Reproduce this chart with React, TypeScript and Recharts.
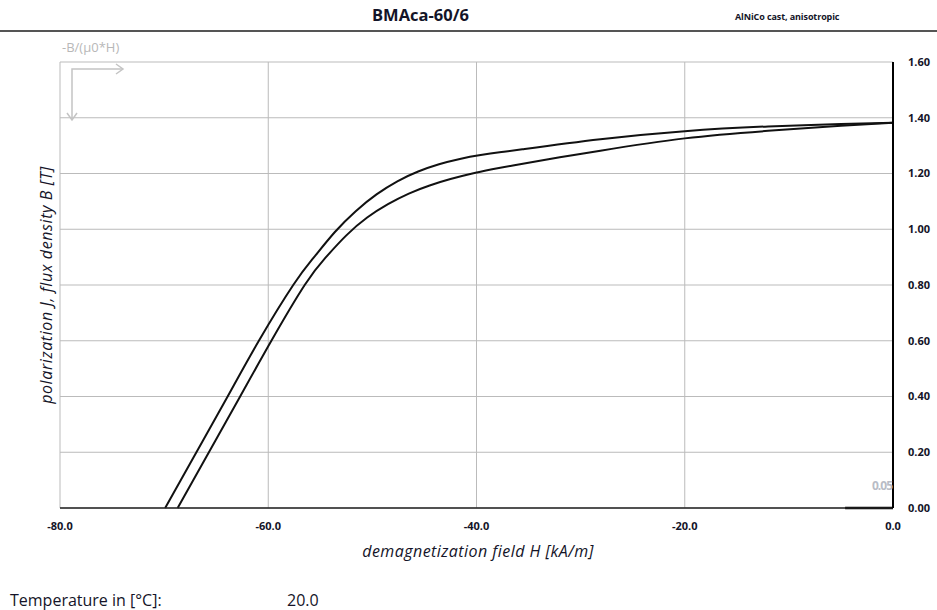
import React from "react";
import {
    CartesianGrid,
    Line,
    LineChart,
    XAxis,
    YAxis,
} from "recharts";

// polarization J curve (outer)
const jField = [-69.9, -66.9, -63.9, -60.9, -57.6, -55.6, -53.6, -51.6, -49.6, -47.6, -45.6, -43.6, -41.6, -39.6, -37.6, -35.6, -28.1, -20.0, -12.0, -5.0, 0];
const jValues = [0, 0.2, 0.4, 0.6, 0.8, 0.9, 0.99, 1.065, 1.125, 1.172, 1.207, 1.233, 1.252, 1.266, 1.277, 1.287, 1.323, 1.352, 1.369, 1.378, 1.382];

// flux density B curve (inner)
const bField = [-68.7, -65.7, -62.7, -59.7, -56.5, -54.5, -52.5, -50.5, -48.5, -46.5, -44.5, -42.5, -40.5, -38.5, -36.5, -32.0, -28.1, -20.0, -12.0, -5.0, 0];
const bValues = [0, 0.2, 0.4, 0.6, 0.8, 0.898, 0.978, 1.042, 1.09, 1.128, 1.157, 1.18, 1.199, 1.215, 1.229, 1.258, 1.282, 1.326, 1.353, 1.371, 1.382];

// working line -B/(µ0*H) = 0.05
const loadField = [-4.6, 0];
const loadValues = [0, 0];

const xTicks = [-80, -60, -40, -20, 0];
const yTicks = [0, 0.2, 0.4, 0.6, 0.8, 1.0, 1.2, 1.4, 1.6];

const toRows = (hs: number[], vs: number[]) => hs.map((h, i) => ({ h, v: vs[i] }));

const jData = toRows(jField, jValues);
const bData = toRows(bField, bValues);
const loadData = toRows(loadField, loadValues);

const font = "'Open Sans', 'Noto Sans', sans-serif";
const ink = "#141428";

export default function App() {
    return (
        <div
            style={{
                position: "absolute",
                left: 0,
                top: 0,
                width: 937,
                height: 610,
                background: "#fff",
                fontFamily: font,
                color: ink,
            }}
        >
            <div
                style={{
                    position: "absolute",
                    left: 372,
                    top: 3,
                    fontSize: 16.5,
                    fontWeight: 700,
                }}
            >
                BMAca-60/6
            </div>
            <div
                style={{
                    position: "absolute",
                    left: 735,
                    top: 10,
                    fontSize: 9,
                    fontWeight: 700,
                    letterSpacing: -0.1,
                }}
            >
                AlNiCo cast, anisotropic
            </div>
            <div
                style={{
                    position: "absolute",
                    left: 0,
                    top: 30,
                    width: 937,
                    height: 2,
                    background: "#555",
                }}
            />
            <LineChart
                width={937}
                height={610}
                margin={{ top: 62, right: 0, left: 60, bottom: 52 }}
                style={{ position: "absolute", left: 0, top: 0 }}
            >
                <CartesianGrid stroke="#bbbbbb" strokeWidth={1} />
                <XAxis
                    dataKey="h"
                    type="number"
                    domain={[-80, 0]}
                    ticks={xTicks}
                    allowDataOverflow
                    height={50}
                    stroke="#222"
                    strokeWidth={1.5}
                    tickLine={false}
                    tickSize={0}
                    tickMargin={14}
                    tick={{ fontSize: 11, fontWeight: 700, fill: ink, fontFamily: font }}
                    tickFormatter={(v: number) => v.toFixed(1)}
                />
                <YAxis
                    orientation="right"
                    type="number"
                    domain={[0, 1.6]}
                    ticks={yTicks}
                    width={44}
                    stroke="#000"
                    strokeWidth={2}
                    tickLine={false}
                    tickSize={0}
                    tickMargin={15}
                    tick={{ fontSize: 11, fontWeight: 700, fill: ink, fontFamily: font }}
                    tickFormatter={(v: number) => v.toFixed(2)}
                />
                <Line
                    data={jData}
                    dataKey="v"
                    type="natural"
                    stroke="#111"
                    strokeWidth={2}
                    dot={false}
                    isAnimationActive={false}
                />
                <Line
                    data={bData}
                    dataKey="v"
                    type="natural"
                    stroke="#111"
                    strokeWidth={2}
                    dot={false}
                    isAnimationActive={false}
                />
                <Line
                    data={loadData}
                    dataKey="v"
                    type="linear"
                    stroke="#000"
                    strokeWidth={2.5}
                    dot={false}
                    isAnimationActive={false}
                />
            </LineChart>
            <svg
                width={937}
                height={610}
                style={{ position: "absolute", left: 0, top: 0, pointerEvents: "none" }}
            >
                <text x={62} y={52} fontSize={13} fill="#b8b8b8" fontFamily={font}>
                    -B/(µ0*H)
                </text>
                <g stroke="#c4c4c4" strokeWidth={1.5} fill="none">
                    <polyline points="72,120 72,69 123,69" />
                    <polyline points="116,64 123,69 116,74" />
                    <polyline points="67,113 72,120 77,113" />
                </g>
                <text
                    x={892}
                    y={490}
                    fontSize={12}
                    fontWeight={700}
                    letterSpacing={-1}
                    textAnchor="end"
                    fill="#b8bcc6"
                    fontFamily={font}
                >
                    0.05
                </text>
                <text
                    x={478}
                    y={557}
                    fontSize={16}
                    fontStyle="italic"
                    letterSpacing={0.45}
                    textAnchor="middle"
                    fill={ink}
                    fontFamily={font}
                >
                    demagnetization field H [kA/m]
                </text>
                <text
                    transform="translate(52,285) rotate(-90)"
                    fontSize={16}
                    fontStyle="italic"
                    letterSpacing={0.6}
                    textAnchor="middle"
                    fill={ink}
                    fontFamily={font}
                >
                    polarization J, flux density B [T]
                </text>
                <text x={10} y={606} fontSize={16} fill={ink} fontFamily={font}>
                    Temperature in [°C]:
                </text>
                <text x={287} y={606} fontSize={16} fill={ink} fontFamily={font}>
                    20.0
                </text>
            </svg>
        </div>
    );
}
